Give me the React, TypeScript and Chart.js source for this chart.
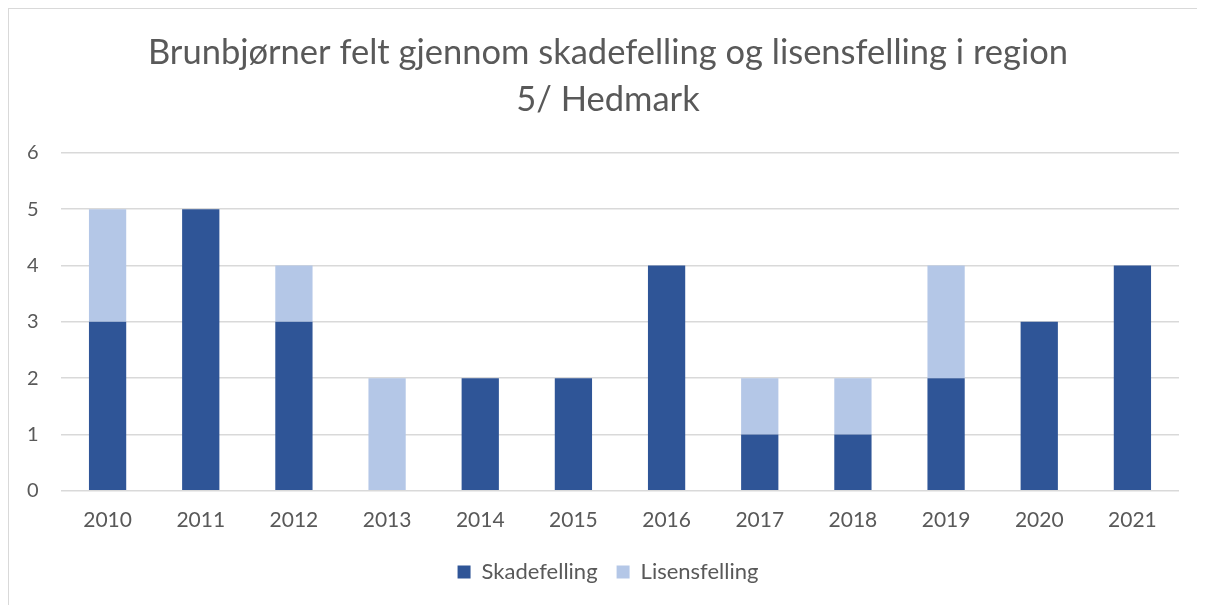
import React, { useEffect, useRef } from "react";
import { Chart, registerables } from "chart.js";

Chart.register(...registerables);

const years = ["2010", "2011", "2012", "2013", "2014", "2015", "2016", "2017", "2018", "2019", "2020", "2021"];
const skadefelling = [3, 5, 3, 0, 2, 2, 4, 1, 1, 2, 3, 4];
const lisensfelling = [2, 0, 1, 2, 0, 0, 0, 1, 1, 2, 0, 0];
const titleLines = ["Brunbjørner felt gjennom skadefelling og lisensfelling i region", "5/ Hedmark"];

const FONT = "Lato, 'Noto Sans', sans-serif";
const TEXT = "#595959";

export default function App() {
  const ref = useRef<HTMLCanvasElement | null>(null);
  useEffect(() => {
    if (!ref.current) return;
    const chart = new Chart(ref.current, {
      type: "bar",
      data: {
        labels: years,
        datasets: [
          { label: "Skadefelling", data: skadefelling, backgroundColor: "#2F5597", barPercentage: 0.4, categoryPercentage: 1 },
          { label: "Lisensfelling", data: lisensfelling, backgroundColor: "#B4C7E7", barPercentage: 0.4, categoryPercentage: 1 },
        ],
      },
      options: {
        animation: false,
        responsive: false,
        maintainAspectRatio: false,
        layout: { padding: { left: 28, right: 26, top: 20, bottom: 12 } },
        plugins: {
          title: {
            display: true,
            text: titleLines,
            color: TEXT,
            font: { family: FONT, size: 34.5, weight: "normal", lineHeight: 1.36 },
            padding: { top: 0, bottom: 30 },
          },
          legend: {
            position: "bottom",
            labels: {
              color: TEXT,
              font: { family: FONT, size: 22 },
              boxWidth: 13,
              boxHeight: 13,
              padding: 19,
            },
          },
          tooltip: { enabled: false },
        },
        scales: {
          x: {
            stacked: true,
            grid: { display: false },
            border: { display: false },
            ticks: { color: TEXT, font: { family: FONT, size: 21 }, padding: 9 },
          },
          y: {
            stacked: true,
            min: 0,
            max: 6,
            afterFit: (axis: any) => { axis.width = 24; },
            ticks: { stepSize: 1, color: TEXT, font: { family: FONT, size: 20 }, mirror: true, padding: -34 },
            grid: { color: "#D9D9D9", lineWidth: 1.5, drawTicks: false },
            border: { display: false },
          },
        },
      },
    });
    return () => chart.destroy();
  }, []);
  return (
    <div style={{ width: 1196, height: 596, borderTop: "1.5px solid #D9D9D9", borderLeft: "1.5px solid #D9D9D9", background: "#fff" }}>
      <canvas ref={ref} width={1196} height={596} style={{ display: "block" }} />
    </div>
  );
}
